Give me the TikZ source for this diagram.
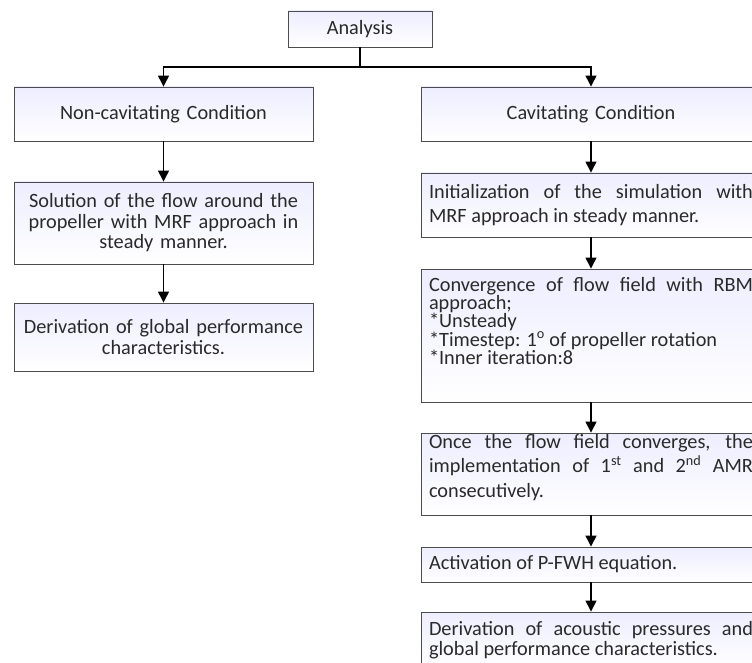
\documentclass[tikz,border=0pt]{standalone}
\usepackage{fontspec}
\setmainfont{Carlito}
\usetikzlibrary{arrows.meta}
\definecolor{txt}{HTML}{2A2A2A}
\tikzset{
  box/.style={draw=black!70, line width=0.9pt, top color=blue!7!white, bottom color=white,
    inner xsep=7pt, inner ysep=0pt, text=txt, font=\fontsize{20.3}{20.5}\selectfont},
  lbox/.style={box, minimum width=299pt, text width=285pt, align=center},
  rbox/.style={box, minimum width=340pt, text width=324pt, align=justify},
  arr/.style={line width=1.3pt, -{Triangle[length=11pt,width=11pt]}},
  ln/.style={line width=1.3pt}
}
\begin{document}
\begin{tikzpicture}[x=1pt,y=-1pt]
\useasboundingbox (0,0) rectangle (752,663);
\clip (0,0) rectangle (752,663);
\hyphenpenalty=10000
\node[box, minimum width=144pt, minimum height=36pt] (an) at (360,29) {Analysis};
\node[lbox, minimum height=54pt] (nc) at (163.5,114) {Non-cavitating Condition};
\node[lbox, minimum height=82pt] (sol) at (163.5,223) {Solution of the flow around the\\ propeller with MRF approach in\\ steady manner.};
\node[lbox, minimum height=68pt] (der) at (163.5,337) {Derivation of global performance\\ characteristics.};
\node[rbox, minimum height=54pt, align=center] (cav) at (591,114) {Cavitating Condition};
\node[rbox, minimum height=64pt, font=\fontsize{20.3}{24}\selectfont] (init) at (591,205) {Initialization of the simulation with\linebreak MRF approach in steady manner.};
\node[rbox, minimum height=133pt, font=\fontsize{20.3}{18.3}\selectfont] (conv) at (591,335.5) {Convergence of flow field with RBM\linebreak approach;\\{}*Unsteady\\{}*Timestep: 1\textsuperscript{o} of propeller rotation\\{}*Inner iteration:8\par\vspace{29pt}};
\node[rbox, minimum height=82pt, font=\fontsize{20.3}{24.5}\selectfont] (once) at (591,474) {Once the flow field converges, the\linebreak implementation of 1\textsuperscript{st} and 2\textsuperscript{nd} AMR\linebreak consecutively.\par\vspace{13pt}};
\node[rbox, minimum height=35pt] (act) at (591,564.5) {Activation of P-FWH equation.};
\node[rbox, minimum height=56pt] (acou) at (591,640) {Derivation of acoustic pressures and\linebreak global performance characteristics.};
\coordinate (j) at (360,67);
\draw[ln] (an.south) -- (j);
\draw[arr] (j) -| (nc.north);
\draw[arr] (j) -| (cav.north);
\draw[arr] (nc) -- (sol);
\draw[arr] (sol) -- (der);
\draw[arr] (cav) -- (init);
\draw[arr] (init) -- (conv);
\draw[arr] (conv) -- (once);
\draw[arr] (once) -- (act);
\draw[arr] (act) -- (acou);
\end{tikzpicture}
\end{document}
